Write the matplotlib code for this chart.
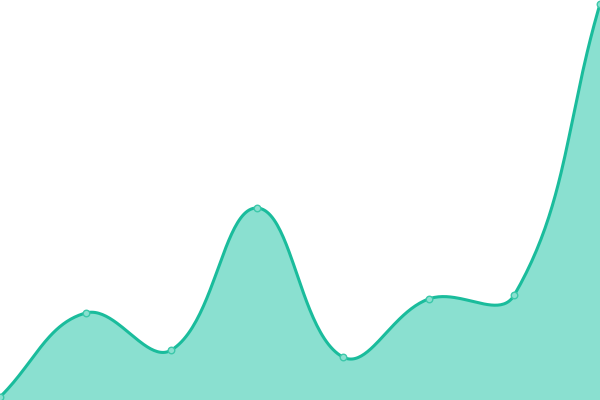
import numpy as np
import matplotlib
matplotlib.use('Agg')
import matplotlib.pyplot as plt

# donnees
x_vals = [0, 1, 2, 3, 4, 5, 6, 7]
y_vals = [3, 87, 50, 192, 43, 101, 105, 396]

W, H = 600, 400
TENSION = 0.4


def spline_curve(xs, ys, tension=TENSION, n=50):
    # lissage type bezier (tension 0.4), calcule en pixels
    px = np.asarray(xs, float) * W / (len(xs) - 1)
    py = np.asarray(ys, float)
    pts = np.column_stack([px, py])
    cps = []
    for i in range(len(pts)):
        prev = pts[max(i - 1, 0)]
        cur = pts[i]
        nxt = pts[min(i + 1, len(pts) - 1)]
        d01 = np.hypot(*(cur - prev))
        d12 = np.hypot(*(nxt - cur))
        tot = d01 + d12
        s01 = d01 / tot if tot else 0
        s12 = d12 / tot if tot else 0
        fa = tension * s01
        fb = tension * s12
        cps.append((cur - fa * (nxt - prev), cur + fb * (nxt - prev)))
    t = np.linspace(0, 1, n)[:, None]
    segs = []
    for i in range(len(pts) - 1):
        p0, p1, p2, p3 = pts[i], cps[i][1], cps[i + 1][0], pts[i + 1]
        b = ((1 - t) ** 3) * p0 + 3 * ((1 - t) ** 2) * t * p1 \
            + 3 * (1 - t) * t ** 2 * p2 + t ** 3 * p3
        segs.append(b if i == 0 else b[1:])
    curve = np.vstack(segs)
    return curve[:, 0] * (len(xs) - 1) / W, curve[:, 1]


sx, sy = spline_curve(x_vals, y_vals)

fig = plt.figure(figsize=(6, 4), dpi=100)
ax = fig.add_axes([0, 0, 1, 1])
ax.fill_between(sx, 0, sy, color='#8ae0d0', linewidth=0)
ax.plot(sx, sy, color='#1abc9c', linewidth=2.2)
ax.scatter(x_vals, y_vals, s=22, facecolor='#8ae0d0', edgecolor='#3cc8aa',
           linewidth=1, zorder=3, clip_on=False)
ax.set_xlim(0, 7)
ax.set_ylim(0, 400)
ax.axis('off')

fig.savefig('out.png', dpi=100)
